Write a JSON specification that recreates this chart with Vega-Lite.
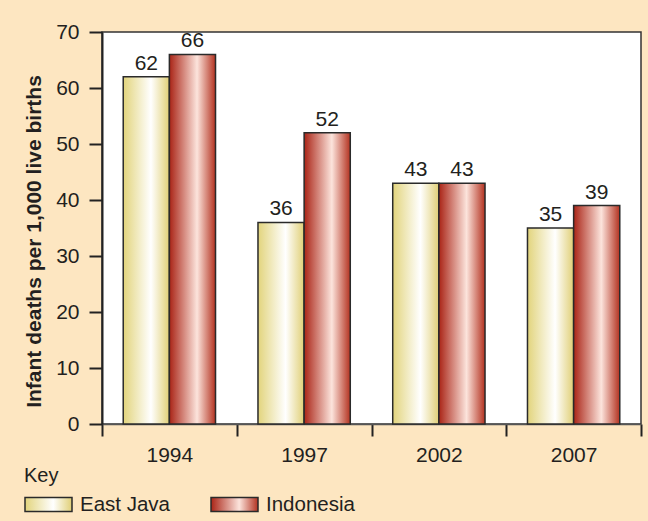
{
  "$schema": "https://vega.github.io/schema/vega-lite/v6.json",
  "width": 539,
  "height": 392,
  "autosize": {"type": "none"},
  "padding": {"left": 102, "top": 32, "right": 7, "bottom": 97},
  "background": "#fde6c1",
  "config": {
    "font": "Liberation Sans",
    "view": {"fill": "white", "stroke": "#333333", "strokeWidth": 1.5}
  },
  "data": {
    "values": [
      {"year": "1994", "region": "East Java", "value": 62},
      {"year": "1994", "region": "Indonesia", "value": 66},
      {"year": "1997", "region": "East Java", "value": 36},
      {"year": "1997", "region": "Indonesia", "value": 52},
      {"year": "2002", "region": "East Java", "value": 43},
      {"year": "2002", "region": "Indonesia", "value": 43},
      {"year": "2007", "region": "East Java", "value": 35},
      {"year": "2007", "region": "Indonesia", "value": 39}
    ]
  },
  "encoding": {
    "x": {
      "field": "year",
      "type": "nominal",
      "scale": {"paddingInner": 0, "paddingOuter": 0},
      "axis": {
        "title": null,
        "labelAngle": 0,
        "labelFontSize": 21,
        "labelColor": "#231f20",
        "labelPadding": 8,
        "tickBand": "extent",
        "tickSize": 12,
        "tickWidth": 2,
        "tickColor": "#222222",
        "domainColor": "#555555",
        "domainWidth": 1.5
      }
    },
    "xOffset": {
      "field": "region",
      "type": "nominal",
      "sort": ["East Java", "Indonesia"],
      "scale": {"paddingInner": 0, "paddingOuter": 0.46}
    },
    "y": {
      "field": "value",
      "type": "quantitative",
      "scale": {"domain": [0, 70], "nice": false},
      "axis": {
        "title": "Infant deaths per 1,000 live births",
        "titleFontSize": 21,
        "titleFontWeight": "bold",
        "titleColor": "#231f20",
        "titlePadding": 11,
        "titleY": 209,
        "values": [0, 10, 20, 30, 40, 50, 60, 70],
        "grid": false,
        "labelFontSize": 21,
        "labelColor": "#231f20",
        "labelPadding": 10,
        "tickSize": 13,
        "tickWidth": 2,
        "tickColor": "#222222",
        "domainColor": "#222222",
        "domainWidth": 2
      }
    }
  },
  "layer": [
    {
      "mark": {"type": "bar", "stroke": "#2a2a2a", "strokeWidth": 1.5, "opacity": 1},
      "encoding": {
        "color": {
          "field": "region",
          "type": "nominal",
          "scale": {
            "domain": ["East Java", "Indonesia"],
            "range": [
              {"expr": "{gradient: 'linear', x1: 0, y1: 0, x2: 1, y2: 0, stops: [{offset: 0, color: '#e2d47c'}, {offset: 0.6, color: '#ffffff'}, {offset: 1, color: '#e0cf76'}]}"},
              {"expr": "{gradient: 'linear', x1: 0, y1: 0, x2: 1, y2: 0, stops: [{offset: 0, color: '#aa2416'}, {offset: 0.6, color: '#fce4dc'}, {offset: 1, color: '#b33220'}]}"}
            ]
          },
          "legend": {
            "title": "Key",
            "orient": "none",
            "legendX": -78,
            "legendY": 434,
            "direction": "horizontal",
            "padding": 0,
            "titleFontSize": 20,
            "titleFontWeight": "normal",
            "titleColor": "#231f20",
            "titlePadding": -6,
            "symbolType": "M-1,-0.3H1V0.3H-1Z",
            "symbolSize": 2209,
            "symbolStrokeColor": "#2a2a2a",
            "symbolStrokeWidth": 1.5,
            "symbolOpacity": 1,
            "labelFontSize": 20.5,
            "labelColor": "#231f20",
            "labelOffset": 7,
            "columnPadding": 37,
            "encode": {
              "symbols": {
                "update": {
                  "stroke": {"value": "#2a2a2a"},
                  "strokeWidth": {"value": 1.5}
                }
              }
            }
          }
        }
      }
    },
    {
      "mark": {"type": "text", "fontSize": 21, "color": "#231f20", "dy": -7, "baseline": "alphabetic"},
      "encoding": {
        "text": {"field": "value", "type": "quantitative"}
      }
    }
  ]
}
